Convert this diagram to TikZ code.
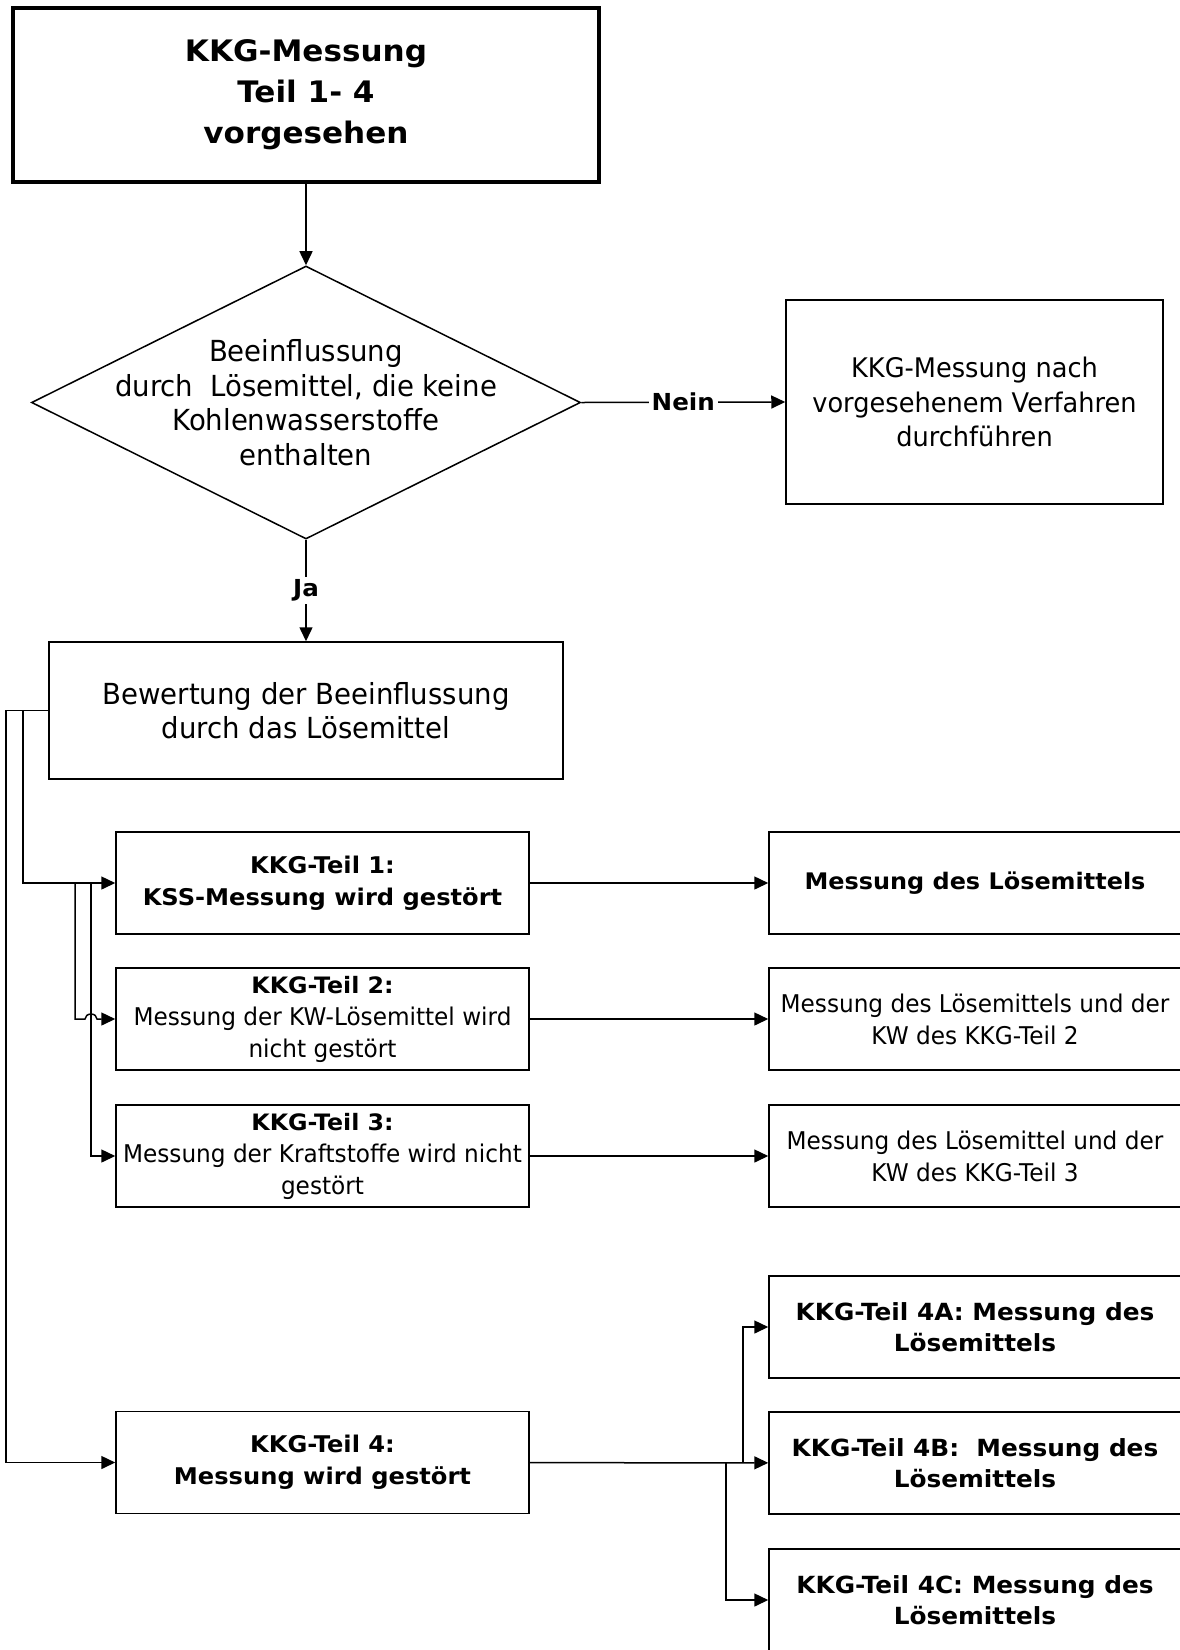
\documentclass[tikz,border=0pt]{standalone}
\usepackage{fontspec}
\setmainfont{DejaVu Sans}[FakeStretch=0.95, BoldFeatures={FakeStretch=1.05}]
\usetikzlibrary{shapes.geometric, arrows.meta}
\newcommand{\teilhead}[1]{{\fontsize{11.3}{16}\selectfont\bfseries #1}}

\begin{document}
\begin{tikzpicture}[x=0.5pt,y=-0.5pt]
        \tikzstyle{proc} = [rectangle, draw=black, line width=0.75pt, align=center, inner sep=0pt, minimum width=206.5pt, minimum height=51pt, font=\fontsize{12.2}{16}\selectfont]
        \tikzstyle{procb} = [proc, font=\fontsize{11.5}{16.2}\selectfont\bfseries]
        \tikzstyle{res} = [proc, minimum width=206pt]
        \tikzstyle{resb} = [res, font=\fontsize{11.8}{15.8}\selectfont\bfseries]
        \tikzstyle{arrow} = [line width=0.75pt, -{Triangle[length=7pt,width=6.5pt]}]
        \tikzstyle{lbl} = [fill=white, inner sep=1.5pt, font=\fontsize{11.7}{15}\selectfont\bfseries]
        \useasboundingbox (0,0) rectangle (1179,1650);
        % start and decision
        \node [rectangle, draw=black, line width=2pt, align=center, minimum width=293pt, minimum height=87pt, font=\fontsize{14.8}{20.5}\selectfont\bfseries] (start) at (306, 95) {KKG-Messung\\Teil 1- 4\\vorgesehen};
        \node [diamond, draw=black, line width=0.75pt, inner sep=0pt, minimum width=274.5pt, minimum height=136.5pt] (dec) at (306, 402.5) {};
        \node [align=center, font=\fontsize{14.5}{17.3}\selectfont] (dectext) at (dec) {Beeinflussung\\durch\ \ Lösemittel, die keine\\Kohlenwasserstoffe\\enthalten};
        \node [proc, minimum width=188.5pt, minimum height=102pt, font=\fontsize{13.5}{17.3}\selectfont] (nein) at (974.5, 402) {KKG-Messung nach\\vorgesehenem Verfahren\\durchführen};
        \node [proc, minimum width=257pt, minimum height=68.5pt, font=\fontsize{14.5}{17}\selectfont] (bew) at (306, 710.5) {Bewertung der Beeinflussung\\durch das Lösemittel};
        % Teil 1 - 4
        \node [procb] (t1) at (322.5, 883) {KKG-Teil 1:\\KSS-Messung wird gestört};
        \node [proc] (t2) at (322.5, 1019) {\teilhead{KKG-Teil 2:}\\Messung der KW-Lösemittel wird\\nicht gestört};
        \node [proc] (t3) at (322.5, 1156) {\teilhead{KKG-Teil 3:}\\Messung der Kraftstoffe wird nicht\\gestört};
        \node [procb] (t4) at (322.5, 1462.5) {KKG-Teil 4:\\Messung wird gestört};
        % Ergebnisse
        \node [resb, font=\fontsize{11.4}{15.5}\selectfont\bfseries] (m1) at (975, 883) {Messung des Lösemittels};
        \node [res] (m2) at (975, 1019) {Messung des Lösemittels und der\\KW des KKG-Teil 2};
        \node [res] (m3) at (975, 1156) {Messung des Lösemittel und der\\KW des KKG-Teil 3};
        \node [resb] (m4a) at (975, 1327) {KKG-Teil 4A: Messung des\\Lösemittels};
        \node [resb] (m4b) at (975, 1463) {KKG-Teil 4B:\ \ Messung des\\Lösemittels};
        \node [resb] (m4c) at (975, 1600) {KKG-Teil 4C: Messung des\\Lösemittels};
        \coordinate (l0) at (6, 710.5);
        \coordinate (l1) at (23, 710.5);
        \coordinate (j2) at (75, 883);
        \coordinate (j3) at (91, 883);
        \coordinate (hop) at (91, 1019);
        \coordinate (k1) at (743, 1463);
        \coordinate (k2) at (726, 1463);
     \draw[arrow] (start) to (dec);
     \draw[arrow] (dec.east) -- node[lbl] {Nein} (nein.west);
     \draw[arrow] (dec.south) -- node[lbl] {Ja} (bew.north);
     \draw[arrow] (bew.west) -- (l0) |- (t4.west);
     \draw[arrow] (l1) |- (t1.west);
     \draw[arrow] (j2) |- ([xshift=-3pt]hop) arc[start angle=180, end angle=0, x radius=3pt, y radius=2.5pt] -- (t2.west);
     \draw[arrow] (j3) |- (t3.west);
     \draw[arrow] (t1) to (m1);
     \draw[arrow] (t2) to (m2);
     \draw[arrow] (t3) to (m3);
     \draw[arrow] (t4) to (m4b);
     \draw[arrow] (k1) |- (m4a.west);
     \draw[arrow] (k2) |- (m4c.west);
    \end{tikzpicture}
\end{document}
